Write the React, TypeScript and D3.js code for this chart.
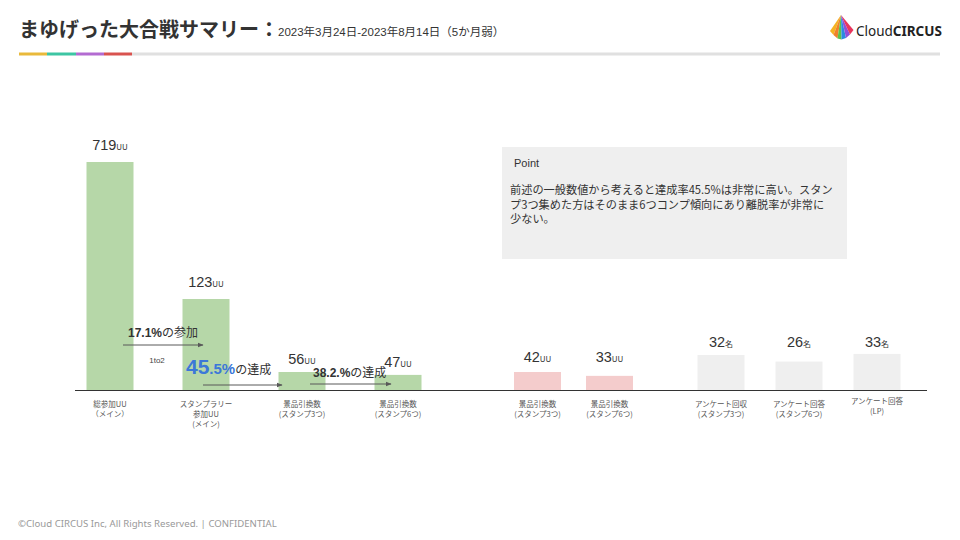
import React from "react";
import * as d3 from "d3";

const mainCats = ["総参加UU\n（メイン）", "スタンプラリー\n参加UU\n(メイン)", "景品引換数\n(スタンプ3つ)", "景品引換数\n(スタンプ6つ)"];
const mainValues = [719, 123, 56, 47];
const pinkCats = ["景品引換数\n(スタンプ3つ)", "景品引換数\n(スタンプ6つ)"];
const pinkValues = [42, 33];
const grayCats = ["アンケート回収\n(スタンプ3つ)", "アンケート回答\n(スタンプ6つ)", "アンケート回答\n(LP)"];
const grayValues = [32, 26, 33];
const unitUU = "UU";
const unitNin = "名";

const title = "まゆげった大合戦サマリー：";
const subtitle = "2023年3月24日-2023年8月14日（5か月弱）";
const pointTitle = "Point";
const pointLines = [
  "前述の一般数値から考えると達成率45.5%は非常に高い。スタン",
  "プ3つ集めた方はそのまま6つコンプ傾向にあり離脱率が非常に",
  "少ない。",
];
const footer = "©Cloud CIRCUS Inc, All Rights Reserved. | CONFIDENTIAL";
const rate1 = "17.1%";
const rate2Big = "45";
const rate2Small = ".5%";
const rate3 = "38.2.%";

const NUM = "'Liberation Sans', Arial, 'Noto Sans CJK JP', sans-serif";
const JP = "'Noto Sans CJK JP', 'Liberation Sans', sans-serif";

export default function App() {
  const W = 960, H = 540;
  const baseY = 390;
  const barW = 47;

  const xMain = d3.scalePoint<string>().domain(mainCats.map((_, i) => String(i))).range([110, 398]);
  const xPink = d3.scalePoint<string>().domain(pinkCats.map((_, i) => String(i))).range([537.5, 609.5]);
  const xGray = d3.scalePoint<string>().domain(grayCats.map((_, i) => String(i))).range([721, 877]);

  // heights (drawn on a non-uniform, slide-like scale)
  const hMain = d3.scaleLinear().domain([0, 56, 123, 719]).range([0, 18, 91, 228]);
  const hPink = d3.scaleLinear().domain([0, 42]).range([0, 18]);
  const hGray = d3.scaleLinear().domain([0, 32]).range([0, 35]);

  const groups = [
    { cats: mainCats, vals: mainValues, x: xMain, h: hMain, fill: "#b6d7a8", unit: unitUU, labelFixed: false },
    { cats: pinkCats, vals: pinkValues, x: xPink, h: hPink, fill: "#f4cccc", unit: unitUU, labelFixed: true },
    { cats: grayCats, vals: grayValues, x: xGray, h: hGray, fill: "#efefef", unit: unitNin, labelFixed: true },
  ];

  const c = (g: any, i: number) => g.x(String(i)) as number;

  const arrow = (x1: number, x2: number, y: number, key: string) => (
    <line key={key} x1={x1} x2={x2 - 1} y1={y} y2={y} stroke="#595959" strokeWidth={1} markerEnd="url(#arr)" />
  );

  const m0 = c(groups[0], 0), m1 = c(groups[0], 1), m2 = c(groups[0], 2), m3 = c(groups[0], 3);

  const underline = [
    { x1: 19, x2: 47, col: "#e9b93b" },
    { x1: 47, x2: 76, col: "#3dc5a3" },
    { x1: 76, x2: 104, col: "#b36bd1" },
    { x1: 104, x2: 132, col: "#d9534f" },
    { x1: 132, x2: 940, col: "#e0e0e0" },
  ];

  const logoCols = ["#f5b323", "#f0812b", "#5cc24a", "#2b8be0", "#8f4fd8", "#e8365d"];
  const apex = [841, 15];
  const basePts = [[830, 31], [833.5, 35], [837.5, 38.5], [841.5, 39.5], [846, 38], [850, 34.5], [853.5, 30]];

  return (
    <svg width={W} height={H} style={{ position: "absolute", left: 0, top: 0, background: "#fff" }}>
      <defs>
        <marker id="arr" viewBox="0 0 10 10" refX="9" refY="5" markerWidth="6" markerHeight="6" orient="auto">
          <path d="M0,1 L10,5 L0,9 z" fill="#595959" />
        </marker>
      </defs>
      <rect width={W} height={H} fill="#fff" />

      {/* header */}
      <text x={19} y={37} fontFamily={JP} fontWeight={700} fontSize={20} fill="#333">{title}</text>
      <text x={278} y={36} fontFamily={NUM} fontSize={11.5} fill="#333">{subtitle}</text>
      {underline.map((u, i) => (
        <line key={i} x1={u.x1} x2={u.x2} y1={54} y2={54} stroke={u.col} strokeWidth={3} />
      ))}

      {/* logo */}
      {logoCols.map((col, i) => (
        <polygon key={i} points={`${apex[0]},${apex[1]} ${basePts[i][0]},${basePts[i][1]} ${basePts[i + 1][0]},${basePts[i + 1][1]}`} fill={col} />
      ))}
      <text x={856} y={36} fontFamily="'Noto Sans', sans-serif" fontSize={13.5} fill="#222">
        <tspan>Cloud</tspan><tspan fontWeight={700}>CIRCUS</tspan>
      </text>

      {/* point box */}
      <rect x={502} y={147} width={345} height={112} fill="#efefef" />
      <text x={514} y={167} fontFamily={NUM} fontSize={11} fill="#333">{pointTitle}</text>
      <text fontFamily={JP} fontSize={11.2} fill="#333">
        {pointLines.map((l, i) => (
          <tspan key={i} x={510} y={194 + i * 14.5}>{l}</tspan>
        ))}
      </text>

      {/* bars */}
      {groups.map((g, gi) => {
        const maxTop = baseY - (d3.max(g.vals.map((v) => g.h(v))) as number);
        return g.vals.map((v, i) => {
          const cx = c(g, i);
          const top = baseY - g.h(v);
          const ly = g.labelFixed ? maxTop - (gi === 2 ? 7 : 10) : top - (v > 100 ? 12 : 8);
          const lines = g.cats[i].split("\n");
          const lpShift = g.cats[i].includes("(LP)") ? -3 : 0;
          return (
            <g key={`${gi}-${i}`}>
              <rect x={cx - barW / 2} y={top} width={barW} height={g.h(v)} fill={g.fill} />
              <text x={cx} y={ly} textAnchor="middle" fill="#333">
                <tspan fontFamily={NUM} fontSize={14.5}>{v}</tspan>
                <tspan fontFamily={JP} fontSize={8}>{g.unit}</tspan>
              </text>
              {lines.map((ln, li) => (
                <text key={li} x={cx} y={407 + lpShift + li * 10} textAnchor="middle" fontFamily={JP} fontSize={7.5} fill="#555">{ln}</text>
              ))}
            </g>
          );
        });
      })}

      {/* axis */}
      <line x1={75} x2={927} y1={baseY + 0.5} y2={baseY + 0.5} stroke="#333" strokeWidth={1.2} />

      {/* annotations */}
      {arrow(m0 + 13, m1 - 2, 345, "a1")}
      <text x={128} y={337} fontFamily={NUM} fontSize={12} fill="#333">
        <tspan fontWeight={700}>{rate1}</tspan><tspan fontFamily={JP}>の参加</tspan>
      </text>
      <text x={157} y={363} textAnchor="middle" fontFamily={NUM} fontSize={8} fill="#444">1to2</text>

      {arrow(m1 - 3, m2 - 19, 385, "a2")}
      <text x={186} y={374} fontFamily={NUM} fill="#333">
        <tspan fontWeight={700} fontSize={21} fill="#3c78d8">{rate2Big}</tspan>
        <tspan fontWeight={700} fontSize={15} fill="#3c78d8">{rate2Small}</tspan>
        <tspan fontFamily={JP} fontSize={12}>の達成</tspan>
      </text>

      {arrow(m2 + 8, m3 - 6, 384, "a3")}
      <text x={313} y={377} fontFamily={NUM} fontSize={12} fill="#333">
        <tspan fontWeight={700}>{rate3}</tspan><tspan fontFamily={JP}>の達成</tspan>
      </text>

      {/* footer */}
      <text x={18} y={527} fontFamily="'Noto Sans', sans-serif" fontSize={9.6} fill="#999">{footer}</text>
    </svg>
  );
}
